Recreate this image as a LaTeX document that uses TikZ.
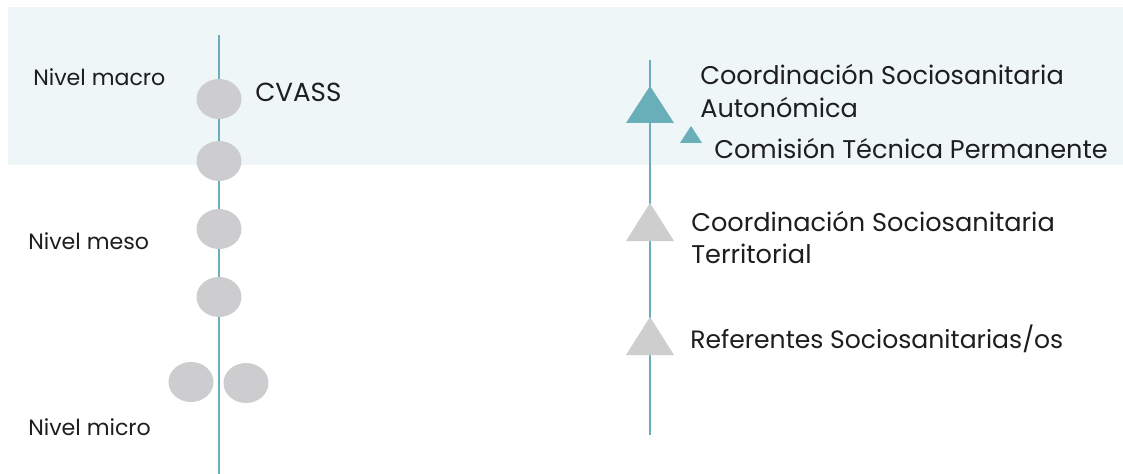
\documentclass[tikz,border=0pt]{standalone}
\usepackage{fontspec}
\usetikzlibrary{shapes.geometric}
\setmainfont{Poppins}
\definecolor{band}{HTML}{EEF6F8}
\definecolor{teal}{HTML}{68AFBA}
\definecolor{dot}{HTML}{CDCDCF}
\definecolor{tri}{HTML}{CFCECF}
\definecolor{txt}{HTML}{1E1E1E}
\begin{document}
\begin{tikzpicture}[x=0.75pt,y=-0.75pt,
  axis/.style={draw=teal,line width=1.8pt},
  dotnode/.style={ellipse,fill=dot,minimum width=45*0.75pt,minimum height=40*0.75pt,inner sep=0pt},
  lvl/.style={anchor=base west,inner sep=0pt,text=txt,font=\fontsize{16.6}{18}\selectfont},
  lbl/.style={anchor=base west,inner sep=0pt,text=txt,font=\fontsize{19.2}{24}\selectfont}
]
\useasboundingbox (0,0) rectangle (1123,474);
\fill[white] (0,0) rectangle (1123,474);
\fill[band] (8,7) rectangle (1123,165);
% left axis
\coordinate (lt) at (219,35);
\coordinate (lb) at (219,474);
\draw[axis] (lt) -- (lb);
\node[dotnode] (c1) at (219,99) {};
\node[dotnode] (c2) at (219,161) {};
\node[dotnode] (c3) at (219,229) {};
\node[dotnode] (c4) at (219,297) {};
\node[dotnode] (c5) at (191,382) {};
\node[dotnode] (c6) at (246,383) {};
\node[lvl] (macro) at (33,86) {Nivel macro};
\node[lvl] (meso) at (28,249) {Nivel meso};
\node[lvl] (micro) at (28,435) {Nivel micro};
\node[anchor=base west,inner sep=0pt,text=txt,font=\fontsize{19.6}{22}\selectfont] (cvass) at (255,102) {CVASS};
% right axis
\coordinate (rt) at (650,60);
\coordinate (rb) at (650,435);
\draw[axis] (rt) -- (rb);
\fill[teal] (650,86) -- (674,123) -- (626,123) -- cycle;
\fill[teal] (691,126) -- (702,143) -- (680,143) -- cycle;
\fill[tri] (650,203) -- (674,241) -- (626,241) -- cycle;
\fill[tri] (650,317) -- (674,355) -- (626,355) -- cycle;
\node[lbl] (csa) at (700,85) {Coordinación Sociosanitaria};
\node[lbl] (csa2) at (700,118) {Autonómica};
\node[lbl] (ctp) at (714,158) {Comisión Técnica Permanente};
\node[lbl] (cst) at (691,231) {Coordinación Sociosanitaria};
\node[lbl] (cst2) at (691,263) {Territorial};
\node[lbl,font=\fontsize{18.8}{24}\selectfont] (ref) at (690,348) {Referentes Sociosanitarias/os};
\end{tikzpicture}
\end{document}
